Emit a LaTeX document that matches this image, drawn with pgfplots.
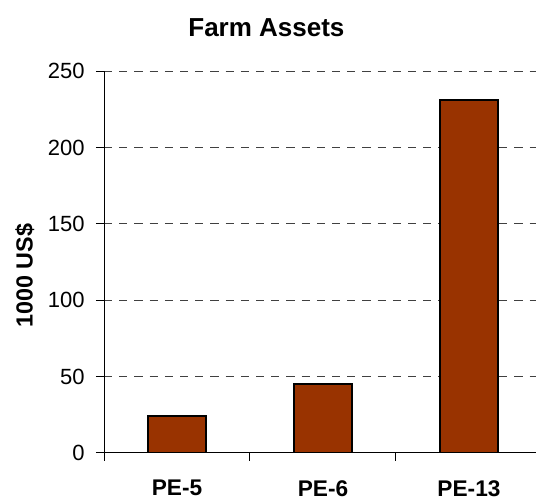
\documentclass[border=0pt]{standalone}
\usepackage{pgfplots}
\pgfplotsset{compat=1.18}
\usepackage{fontspec}
\setmainfont{Liberation Sans}
\definecolor{barbrown}{HTML}{993300}
\begin{document}
\begin{tikzpicture}
\useasboundingbox (0,0) rectangle (402pt,376.5pt);
\begin{axis}[
  at={(78pt,36.75pt)}, anchor=south west,
  scale only axis, width=324pt, height=286.3pt,
  xmin=0.5, xmax=3.459, ymin=0, ymax=250,
  axis x line*=bottom, axis y line*=left,
  axis line style={black, line width=0.75pt, -},
  xtick={1,2,3}, xticklabels={PE-5,PE-6,PE-13},
  minor xtick={0.5,1.5,2.5},
  major x tick style={draw=none},
  ytick={0,50,100,150,200,250},
  tick align=outside, major tick length=6pt, minor tick length=6pt,
  tick style={black, line width=0.75pt},
  ymajorgrids, xmajorgrids=false,
  grid style={black!75, line width=0.75pt, dash pattern=on 6.2pt off 5.2pt},
  /pgf/number format/assume math mode=true,
  yticklabel style={font=\fontsize{16.5}{19}\selectfont, xshift=-5pt},
  xticklabel style={font=\fontsize{17}{20}\selectfont\bfseries, yshift=-11pt},
  ylabel={1000 US\$},
  ylabel style={font=\fontsize{17.5}{20}\selectfont\bfseries, at={(axis description cs:-0.183,0.465)}, anchor=center},
  title={Farm Assets},
  title style={font=\fontsize{19.5}{22}\selectfont\bfseries, at={(axis description cs:0.376,1.092)}, anchor=center},
]
\addplot[ybar, fill=barbrown, draw=black, line width=1.3pt, bar width=0.4, bar shift=0] coordinates {(1,24) (2,45) (3,231)};
\end{axis}
\end{tikzpicture}
\end{document}
